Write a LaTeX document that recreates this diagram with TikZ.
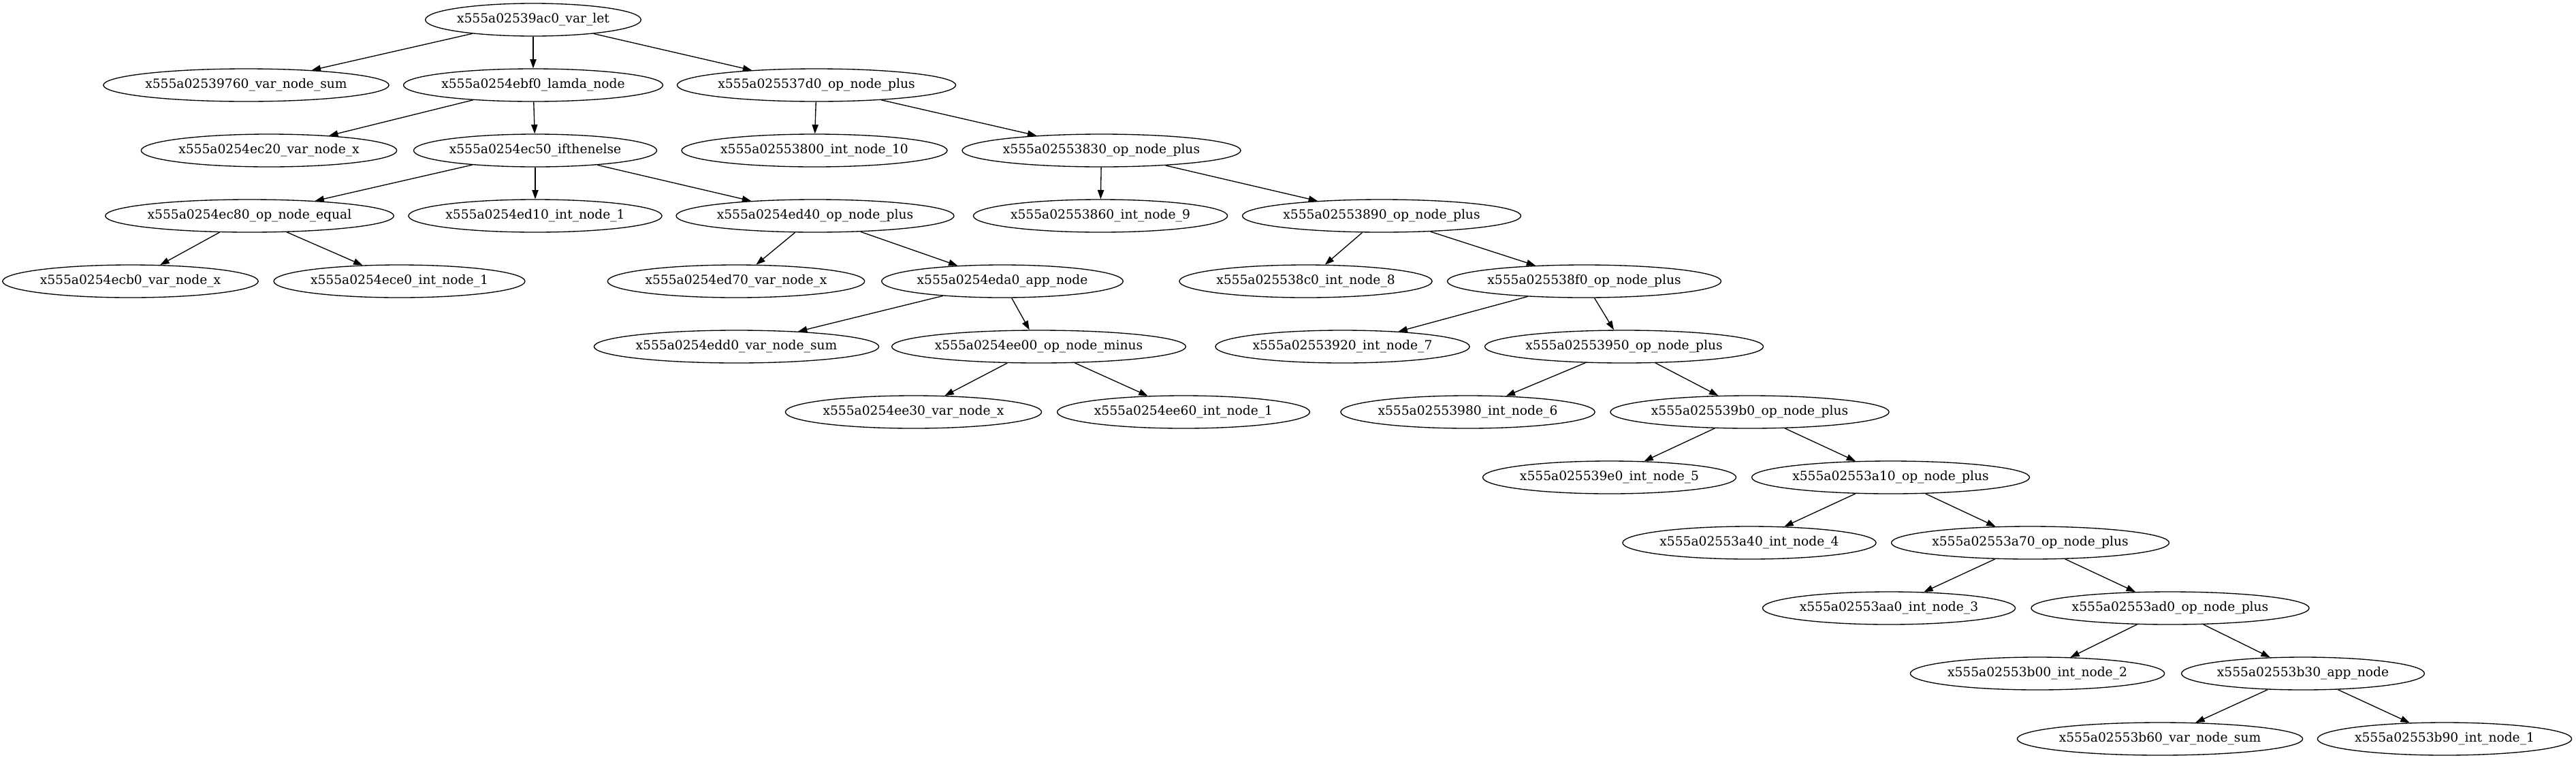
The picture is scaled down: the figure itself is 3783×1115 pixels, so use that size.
\documentclass[tikz,border=0pt]{standalone}
\usepackage{fontspec}
\setmainfont{DejaVu Serif}
\usetikzlibrary{shapes.geometric,arrows.meta}
\begin{document}
\begin{tikzpicture}[x=0.75pt, y=-0.75pt, line width=1pt,
    ast/.style={ellipse, draw, inner xsep=0pt, inner ysep=0pt, minimum height=36pt, font=\fontsize{14pt}{17pt}\selectfont},
    >={Triangle[length=10pt, width=7pt]}]
          \useasboundingbox (0,0) rectangle (3783,1115);

          \node[ast] (n39ac0) at (783,29) {x555a02539ac0\_var\_let};

          \node[ast] (n39760) at (361.5,125) {x555a02539760\_var\_node\_sum};
          \node[ast] (n4ebf0) at (783,125) {x555a0254ebf0\_lamda\_node};
          \node[ast] (n537d0) at (1199,125) {x555a025537d0\_op\_node\_plus};

          \node[ast] (n4ec20) at (395,221) {x555a0254ec20\_var\_node\_x};
          \node[ast] (n4ec50) at (786,221) {x555a0254ec50\_ifthenelse};
          \node[ast] (n53800) at (1196,221) {x555a02553800\_int\_node\_10};
          \node[ast] (n53830) at (1617.5,221) {x555a02553830\_op\_node\_plus};

          \node[ast] (n4ec80) at (366.5,317) {x555a0254ec80\_op\_node\_equal};
          \node[ast] (n4ed10) at (786,317) {x555a0254ed10\_int\_node\_1};
          \node[ast] (n4ed40) at (1197,317) {x555a0254ed40\_op\_node\_plus};
          \node[ast] (n53860) at (1616,317) {x555a02553860\_int\_node\_9};
          \node[ast] (n53890) at (2029,317) {x555a02553890\_op\_node\_plus};

          \node[ast] (n4ecb0) at (191.5,413) {x555a0254ecb0\_var\_node\_x};
          \node[ast] (n4ece0) at (586.5,413) {x555a0254ece0\_int\_node\_1};
          \node[ast] (n4ed70) at (1081,413) {x555a0254ed70\_var\_node\_x};
          \node[ast] (n4eda0) at (1472,413) {x555a0254eda0\_app\_node};
          \node[ast] (n538c0) at (1917.5,413) {x555a025538c0\_int\_node\_8};
          \node[ast] (n538f0) at (2326.5,413) {x555a025538f0\_op\_node\_plus};

          \node[ast] (n4edd0) at (1081.5,509) {x555a0254edd0\_var\_node\_sum};
          \node[ast] (n4ee00) at (1525.5,509) {x555a0254ee00\_op\_node\_minus};
          \node[ast] (n53920) at (1971.5,509) {x555a02553920\_int\_node\_7};
          \node[ast] (n53950) at (2385,509) {x555a02553950\_op\_node\_plus};

          \node[ast] (n4ee30) at (1341.5,605) {x555a0254ee30\_var\_node\_x};
          \node[ast] (n4ee60) at (1738,605) {x555a0254ee60\_int\_node\_1};
          \node[ast] (n53980) at (2155.5,605) {x555a02553980\_int\_node\_6};
          \node[ast] (n539b0) at (2569.5,605) {x555a025539b0\_op\_node\_plus};

          \node[ast] (n539e0) at (2363.5,701) {x555a025539e0\_int\_node\_5};
          \node[ast] (n53a10) at (2776.5,701) {x555a02553a10\_op\_node\_plus};

          \node[ast] (n53a40) at (2569,797) {x555a02553a40\_int\_node\_4};
          \node[ast] (n53a70) at (2981.5,797) {x555a02553a70\_op\_node\_plus};

          \node[ast] (n53aa0) at (2774,893) {x555a02553aa0\_int\_node\_3};
          \node[ast] (n53ad0) at (3187,893) {x555a02553ad0\_op\_node\_plus};

          \node[ast] (n53b00) at (2992,989) {x555a02553b00\_int\_node\_2};
          \node[ast] (n53b30) at (3382,989) {x555a02553b30\_app\_node};

          \node[ast] (n53b60) at (3172,1085) {x555a02553b60\_var\_node\_sum};
          \node[ast] (n53b90) at (3590,1085) {x555a02553b90\_int\_node\_1};

          \draw[->] (n39ac0) -- (n39760);
          \draw[->] (n39ac0) -- (n4ebf0);
          \draw[->] (n39ac0) -- (n537d0);

          \draw[->] (n4ebf0) -- (n4ec20);
          \draw[->] (n4ebf0) -- (n4ec50);

          \draw[->] (n4ec50) -- (n4ec80);
          \draw[->] (n4ec50) -- (n4ed10);
          \draw[->] (n4ec50) -- (n4ed40);

          \draw[->] (n4ec80) -- (n4ecb0);
          \draw[->] (n4ec80) -- (n4ece0);

          \draw[->] (n4ed40) -- (n4ed70);
          \draw[->] (n4ed40) -- (n4eda0);

          \draw[->] (n4eda0) -- (n4edd0);
          \draw[->] (n4eda0) -- (n4ee00);

          \draw[->] (n4ee00) -- (n4ee30);
          \draw[->] (n4ee00) -- (n4ee60);

          \draw[->] (n537d0) -- (n53800);
          \draw[->] (n537d0) -- (n53830);

          \draw[->] (n53830) -- (n53860);
          \draw[->] (n53830) -- (n53890);

          \draw[->] (n53890) -- (n538c0);
          \draw[->] (n53890) -- (n538f0);

          \draw[->] (n538f0) -- (n53920);
          \draw[->] (n538f0) -- (n53950);

          \draw[->] (n53950) -- (n53980);
          \draw[->] (n53950) -- (n539b0);

          \draw[->] (n539b0) -- (n539e0);
          \draw[->] (n539b0) -- (n53a10);

          \draw[->] (n53a10) -- (n53a40);
          \draw[->] (n53a10) -- (n53a70);

          \draw[->] (n53a70) -- (n53aa0);
          \draw[->] (n53a70) -- (n53ad0);

          \draw[->] (n53ad0) -- (n53b00);
          \draw[->] (n53ad0) -- (n53b30);

          \draw[->] (n53b30) -- (n53b60);
          \draw[->] (n53b30) -- (n53b90);
        \end{tikzpicture}
\end{document}
